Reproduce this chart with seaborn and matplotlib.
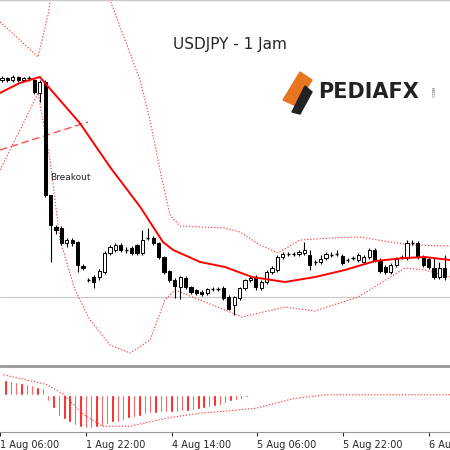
import matplotlib
matplotlib.use("Agg")
import matplotlib.pyplot as plt
import seaborn as sns
import numpy as np
import pandas as pd

O = [148.20,148.22,148.20,148.23,148.20,148.22,148.20,148.07,148.18,147.05,146.73,146.72,146.57,146.60,146.58,146.34,146.20,146.23,146.23,146.28,146.47,146.50,146.55,146.50,146.52,146.55,146.47,146.62,146.62,146.57,146.43,146.29,146.20,146.13,146.22,146.13,146.10,146.08,146.07,146.11,146.11,146.12,146.03,145.95,146.02,146.12,146.20,146.23,146.12,146.18,146.28,146.30,146.43,146.46,146.46,146.46,146.47,146.45,146.38,146.38,146.42,146.45,146.46,146.44,146.40,146.42,146.40,146.38,146.43,146.50,146.40,146.33,146.28,146.35,146.43,146.42,146.57,146.57,146.43,146.41,146.32,146.23,146.32]
C = [148.22,148.20,148.23,148.20,148.22,148.21,148.08,148.18,147.05,146.75,146.70,146.57,146.60,146.57,146.35,146.32,146.20,146.18,146.29,146.47,146.53,146.55,146.50,146.50,146.47,146.47,146.60,146.62,146.57,146.43,146.28,146.20,146.14,146.23,146.13,146.08,146.07,146.06,146.11,146.11,146.11,146.02,145.91,146.03,146.12,146.20,146.22,146.13,146.18,146.28,146.32,146.43,146.46,146.46,146.46,146.48,146.50,146.35,146.37,146.41,146.46,146.45,146.46,146.37,146.40,146.42,146.45,146.43,146.50,146.40,146.29,146.28,146.35,146.41,146.43,146.57,146.57,146.43,146.35,146.33,146.23,146.32,146.23]
H = [148.24,148.23,148.25,148.24,148.23,148.24,148.21,148.20,148.20,147.05,146.75,146.74,146.62,146.62,146.59,146.36,146.22,146.25,146.31,146.49,146.55,146.57,146.57,146.53,146.54,146.56,146.70,146.72,146.64,146.58,146.44,146.30,146.22,146.24,146.24,146.14,146.11,146.10,146.12,146.13,146.13,146.14,146.05,146.04,146.13,146.21,146.24,146.25,146.20,146.30,146.34,146.45,146.48,146.48,146.48,146.50,146.58,146.50,146.40,146.45,146.48,146.48,146.50,146.46,146.42,146.44,146.47,146.45,146.52,146.52,146.42,146.35,146.37,146.43,146.45,146.60,146.60,146.59,146.45,146.43,146.42,146.38,146.45]
L = [148.18,148.18,148.18,148.18,148.19,148.19,148.06,147.98,147.03,146.38,146.66,146.55,146.53,146.54,146.28,146.30,146.18,146.12,146.20,146.26,146.45,146.48,146.48,146.47,146.45,146.45,146.45,146.60,146.55,146.41,146.26,146.18,146.02,146.01,146.11,146.06,146.05,146.04,146.05,146.09,146.09,146.00,145.90,145.85,146.00,146.10,146.18,146.10,146.10,146.16,146.26,146.28,146.41,146.44,146.44,146.44,146.45,146.30,146.35,146.36,146.40,146.43,146.44,146.35,146.38,146.40,146.38,146.36,146.41,146.38,146.27,146.26,146.26,146.33,146.41,146.40,146.55,146.41,146.33,146.31,146.21,146.21,146.20]

ma_idx = [-0.4,3.3,7.0,14.4,20.0,25.6,29.8,31.7,36.7,41.3,46.3,52.4,58.0,63.5,69.1,74.6,78.3,83.0]
ma_val = [148.07,148.17,148.23,147.77,147.33,146.93,146.58,146.50,146.38,146.33,146.23,146.18,146.23,146.30,146.39,146.42,146.43,146.40]
up_x = [0,20,38,48,55,100,110,125,140,150,160,170,180,225,240,260,278,300,330,360,390,410,450]
up_val = [148.78,148.60,148.43,148.85,149.30,149.40,149.00,148.60,148.20,147.80,147.30,146.85,146.74,146.72,146.68,146.55,146.47,146.60,146.62,146.63,146.58,146.55,146.54]
lo_x = [0,20,38,50,60,75,90,110,130,150,165,175,200,225,242,285,315,358,405,425,450]
lo_val = [147.30,147.70,148.07,147.40,146.60,146.10,145.80,145.55,145.47,145.60,146.00,146.10,146.00,145.90,145.83,145.93,145.89,146.03,146.32,146.30,146.23]

hist_pos = [16,14,13,12,11,10,8,7]
hist_neg = [-7,-14,-22,-25,-29,-32,-34,-35,-35,-34,-33,-31,-29,-28,-26,-24,-23,-22,-20,-19,-19,-18,-18,-18,-18,-17,-17,-16,-15,-14,-13,-12,-11,-9,-7,-5,-4,-2,-1]
hist_tail = [0.8]*36
sig_x = [0,43,60,80,100,127,167,200,225,255,292,325,450]
sig_val = [21,11,1,-20,-33,-33,-24,-19,-17,-14,-4,0,0]

tick_idx = [-1,15,31,47,63,79]
tick_lab = ["1 Aug 06:00","1 Aug 22:00","4 Aug 14:00","5 Aug 06:00","5 Aug 22:00","6 Aug 14:00"]

sns.set_style("white")
plt.rcParams['font.family'] = ['DejaVu Sans']
fig = plt.figure(figsize=(4.5,4.5), dpi=100)
ax = fig.add_axes([0, 1-365/450, 1, 365/450])
ax2 = fig.add_axes([0, 18/450, 1, 62/450])
for a in (ax, ax2):
    for s in a.spines.values():
        s.set_visible(False)

def px2idx(x): return (np.array(x)-2)/5.4
n = min(len(O), len(C), len(H), len(L))
idx = np.arange(n)
df = pd.DataFrame({"i": idx, "o": O[:n], "c": C[:n], "h": H[:n], "l": L[:n]})
ax.vlines(df.i, df.l, df.h, color="black", lw=0.8, zorder=3)
w = 0.62
for r in df.itertuples():
    bull = r.c >= r.o
    lo, hi = min(r.o, r.c), max(r.o, r.c)
    if hi - lo < 0.012:
        ax.hlines((lo+hi)/2, r.i-w/2, r.i+w/2, color="black", lw=1, zorder=4)
    else:
        ax.bar(r.i, hi-lo, bottom=lo, width=w, color="white" if bull else "black",
               edgecolor="black", lw=0.7, zorder=4)

sns.lineplot(x=ma_idx, y=ma_val, ax=ax, color="red", lw=1.4, zorder=5)
sns.lineplot(x=px2idx(up_x), y=up_val, ax=ax, color="#ff4040", lw=0.8, ls=(0,(1.2,1.6)), zorder=2)
sns.lineplot(x=px2idx(lo_x), y=lo_val, ax=ax, color="#ff4040", lw=0.8, ls=(0,(1.2,1.6)), zorder=2)
ax.plot(px2idx([0,88]), [147.50,147.78], color="#ff4040", lw=0.9, ls=(0,(6,3)), zorder=2)
ax.axhline(146.03, color="#c8c8c8", lw=0.8, zorder=1)
ax.axhline(149.0, color="#c8c8c8", lw=1.0)
xl = (px2idx(0), px2idx(450))
ax.set_xlim(*xl)
ax.set_ylim(145.35, 149.0)
ax.set_xticks([]); ax.set_yticks([])
ax.text(px2idx(50), 147.22, "Breakout", fontsize=6.5, va="center", ha="left")
fig.text(230/450, 1-45/450, "USDJPY - 1 Jam", fontsize=11, ha="center", va="center")
fig.text(318/450, 1-92/450, "PEDIAFX", fontsize=15, fontweight="bold", ha="left", va="center", color="#222222")
fig.text(433/450, 1-92/450, ".COM", fontsize=3, rotation=90, ha="left", va="center", color="#444444")
fig.patches.append(plt.Polygon([[283/450,1-100/450],[300/450,1-72/450],[312/450,1-80/450],[296/450,1-106/450]],
                               closed=True, transform=fig.transFigure, color="#e8761e"))
fig.patches.append(plt.Polygon([[292/450,1-112/450],[305/450,1-86/450],[312/450,1-92/450],[300/450,1-114/450]],
                               closed=True, transform=fig.transFigure, color="#222222"))
fig.add_artist(plt.Line2D([0,1],[1-366/450,1-366/450], transform=fig.transFigure, color="#999999", lw=2))

hist = (hist_pos + hist_neg + hist_tail)[:n]
hdf = pd.DataFrame({"i": idx[:len(hist)], "v": hist})
ax2.bar(hdf.i, hdf.v, width=0.45, color="red")
sns.lineplot(x=px2idx(sig_x), y=sig_val, ax=ax2, color="#ff4040", lw=0.8, ls=(0,(1.2,1.6)))
ax2.set_xlim(*xl)
ax2.set_ylim(-39, 26)
ax2.set_yticks([])
ax2.set_xticks(tick_idx)
ax2.set_xticklabels(tick_lab, fontsize=7, ha="left")
ax2.tick_params(axis="x", length=3, pad=3, direction="out", bottom=True)
ax2.spines["bottom"].set_visible(True)
ax2.spines["bottom"].set_color("#999999")
fig.savefig("out.png", dpi=100)
